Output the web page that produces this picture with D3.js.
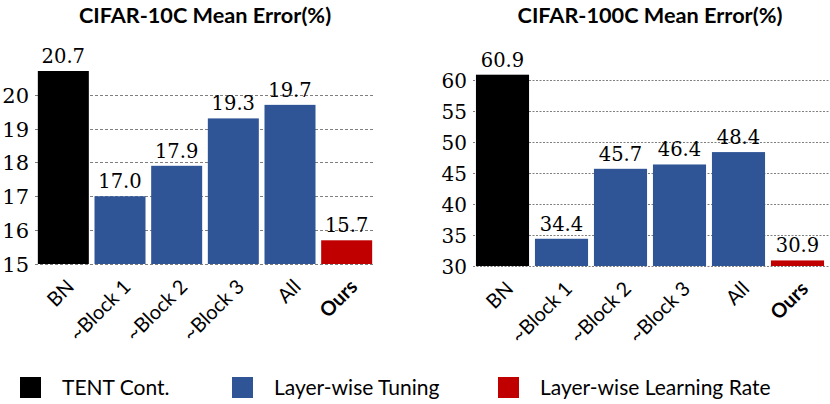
<!DOCTYPE html>
<html>
<head>
<meta charset="utf-8">
<script src="https://cdn.jsdelivr.net/npm/d3@7/dist/d3.min.js"></script>
<style>
  html, body { margin: 0; padding: 0; background: #fff; }
  svg { display: block; }
</style>
</head>
<body>
<svg id="chart" width="830" height="404"></svg>
<script>
// ---- data ----
const categories = ["BN", "~Block 1", "~Block 2", "~Block 3", "All", "Ours"];
const groups = ["TENT Cont.", "Layer-wise Tuning", "Layer-wise Tuning", "Layer-wise Tuning", "Layer-wise Tuning", "Layer-wise Learning Rate"];
const cifar10Values = [20.7, 17.0, 17.9, 19.3, 19.7, 15.7];
const cifar100Values = [60.9, 34.4, 45.7, 46.4, 48.4, 30.9];
const cifar10Ticks = [15, 16, 17, 18, 19, 20];
const cifar100Ticks = [30, 35, 40, 45, 50, 55, 60];
const titles = ["CIFAR-10C Mean Error(%)", "CIFAR-100C Mean Error(%)"];
const legendLabels = ["TENT Cont.", "Layer-wise Tuning", "Layer-wise Learning Rate"];
const legendColors = ["#000000", "#2F5597", "#C00000"];

const color = d3.scaleOrdinal().domain(legendLabels).range(legendColors);
const svg = d3.select("#chart");

const panels = [
  { title: titles[0], values: cifar10Values, ticks: cifar10Ticks, domain: [15, 20.7],
    x0: 35, x1: 375, y0: 264, y1: 71, tickX: 29, tickSize: 21, gridEnd: 375, dash: "3,2" },
  { title: titles[1], values: cifar100Values, ticks: cifar100Ticks, domain: [30, 60.9],
    x0: 473, x1: 827, y0: 266, y1: 74.7, tickX: 467, tickSize: 20, gridEnd: 830, dash: "2,1.5" }
];

panels.forEach(p => {
  const x = d3.scaleBand().domain(categories).range([p.x0, p.x1]).paddingInner(0.1).paddingOuter(0.05);
  const y = d3.scaleLinear().domain(p.domain).range([p.y0, p.y1]);
  const g = svg.append("g");

  // title
  g.append("text")
    .attr("x", (p.x0 + p.x1) / 2).attr("y", 23)
    .attr("text-anchor", "middle")
    .attr("font-family", "Lato, sans-serif").attr("font-weight", "bold")
    .attr("font-size", 21.7).attr("fill", "#000")
    .text(p.title);

  // gridlines
  g.selectAll(".grid").data(p.ticks).join("line")
    .attr("x1", p.x0).attr("x2", p.gridEnd)
    .attr("y1", d => Math.round(y(d)) + 0.5).attr("y2", d => Math.round(y(d)) + 0.5)
    .attr("stroke", "#7f7f7f").attr("stroke-width", 1).attr("stroke-dasharray", p.dash);

  // y axis labels
  const axis = d3.axisLeft(y).tickValues(p.ticks).tickSize(0).tickPadding(0).tickFormat(d3.format("d"));
  const ag = g.append("g").attr("transform", `translate(${p.tickX},0)`).call(axis);
  ag.select(".domain").remove();
  ag.selectAll("text")
    .attr("font-family", "'DejaVu Serif', serif").attr("font-size", p.tickSize).attr("fill", "#000")
    .attr("dy", "0.36em");

  // bars
  g.selectAll(".bar").data(p.values).join("rect")
    .attr("x", (d, i) => x(categories[i]))
    .attr("width", x.bandwidth())
    .attr("y", d => y(d))
    .attr("height", d => y(p.domain[0]) - y(d))
    .attr("fill", (d, i) => color(groups[i]));

  // value labels
  g.selectAll(".val").data(p.values).join("text")
    .attr("x", (d, i) => x(categories[i]) + x.bandwidth() / 2)
    .attr("y", d => y(d) - 8)
    .attr("text-anchor", "middle")
    .attr("font-family", "'DejaVu Serif', serif").attr("font-size", 19.5).attr("fill", "#000")
    .text(d => d.toFixed(1));

  // x labels
  g.selectAll(".xl").data(categories).join("text")
    .attr("transform", d => `translate(${x(d) + x.bandwidth() / 2 + 12},${p.y0 + 24}) rotate(-45)`)
    .attr("text-anchor", "end")
    .attr("font-family", "Lato, sans-serif").attr("font-size", 20)
    .attr("font-weight", d => d === "Ours" ? "bold" : "normal")
    .attr("fill", "#000")
    .text(d => d);
});

// legend
const legendX = [20, 232, 498];
const lg = svg.append("g");
legendLabels.forEach((l, i) => {
  lg.append("rect").attr("x", legendX[i]).attr("y", 377).attr("width", 21).attr("height", 21)
    .attr("fill", color(l));
  lg.append("text").attr("x", legendX[i] + 42).attr("y", 395)
    .attr("font-family", "Lato, sans-serif").attr("font-size", 21).attr("fill", "#000")
    .text(l);
});
</script>
</body>
</html>
